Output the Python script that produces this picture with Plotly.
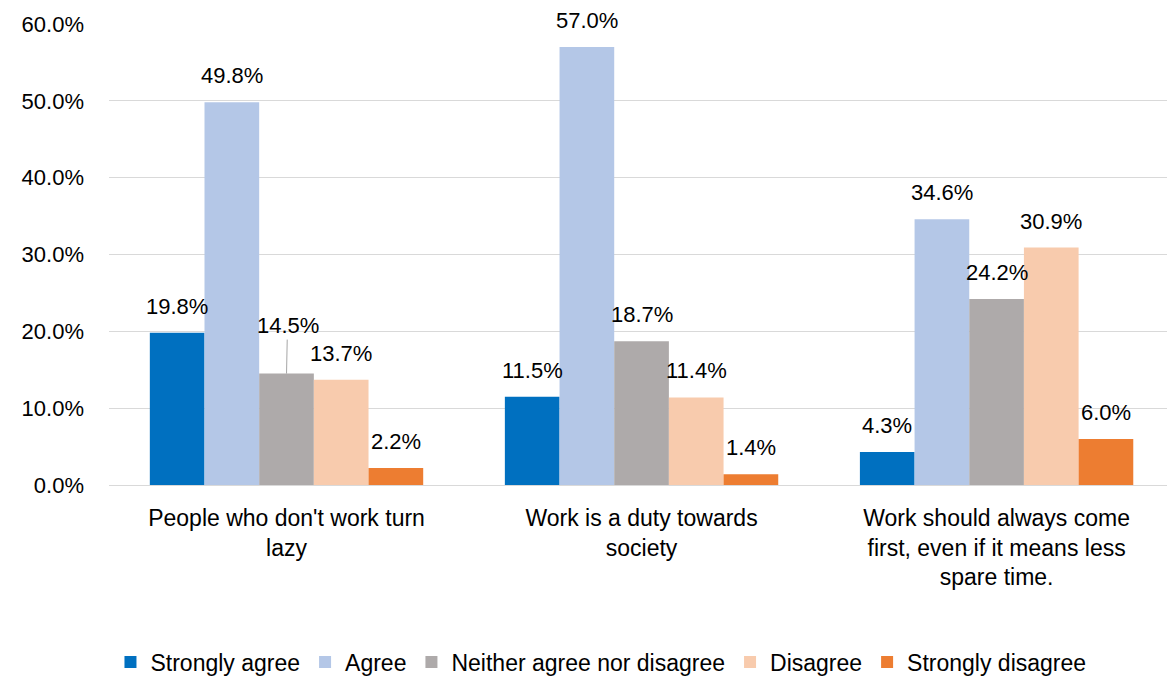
import plotly.graph_objects as go

# Survey responses by statement (percent of respondents)
categories = [
    "People who don't work turn<br>lazy",
    "Work is a duty towards<br>society",
    "Work should always come<br>first, even if it means less<br>spare time.",
]
series_names = ["Strongly agree", "Agree", "Neither agree nor disagree", "Disagree", "Strongly disagree"]
strongly_agree = [19.8, 11.5, 4.3]
agree = [49.8, 57.0, 34.6]
neither = [14.5, 18.7, 24.2]
disagree = [13.7, 11.4, 30.9]
strongly_disagree = [2.2, 1.4, 6.0]
y_ticks = [0, 10, 20, 30, 40, 50, 60]

series_values = [strongly_agree, agree, neither, disagree, strongly_disagree]
colors = ["#0070C0", "#B4C7E7", "#AEAAAA", "#F8CBAD", "#ED7D31"]

FONT = "Arial, 'Liberation Sans', sans-serif"
FS = 22
GROUP_W = 0.77
n = len(series_names)
bar_w = GROUP_W / n
xs = list(range(len(categories)))

fig = go.Figure()
for name, vals, col in zip(series_names, series_values, colors):
    fig.add_trace(go.Bar(
        x=xs, y=[v / 100 for v in vals], name=name,
        marker=dict(color=col, line=dict(width=0)),
        hoverinfo="skip",
    ))

# Value labels above each bar
annotations = []
for i, vals in enumerate(series_values):
    for c, v in zip(xs, vals):
        bx = c - GROUP_W / 2 + bar_w * (i + 0.5)
        if series_names[i] == "Neither agree nor disagree" and c == 0:
            # label pulled up with a leader line
            annotations.append(dict(
                x=bx, y=v / 100, xref="x", yref="y",
                text=f"{v:.1f}%", showarrow=True, arrowhead=0,
                arrowwidth=1, arrowcolor="#A6A6A6", ax=1, ay=-48,
                standoff=0, font=dict(family=FONT, size=FS, color="#000000"),
            ))
        else:
            annotations.append(dict(
                x=bx, y=v / 100, xref="x", yref="y",
                text=f"{v:.1f}%", showarrow=False, yanchor="bottom", yshift=12,
                font=dict(family=FONT, size=FS, color="#000000"),
            ))

fig.update_layout(
    width=1167, height=677,
    margin=dict(l=109, r=0, t=24, b=192, autoexpand=False),
    paper_bgcolor="white", plot_bgcolor="white",
    barmode="group", bargap=1 - GROUP_W, bargroupgap=0,
    font=dict(family=FONT, size=FS, color="#000000"),
    annotations=annotations,
    showlegend=True,
    legend=dict(
        orientation="h", x=0.465, xanchor="center",
        yref="container", y=0.022, yanchor="middle",
        font=dict(family=FONT, size=23, color="#000000"),
        itemwidth=30, traceorder="normal",
    ),
    xaxis=dict(
        tickmode="array", tickvals=xs, ticktext=categories,
        range=[-0.5, 2.48], showgrid=False, zeroline=False,
        showline=True, linecolor="#D9D9D9", linewidth=1, automargin=False,
        ticks="", ticklabelstandoff=12, tickfont=dict(family=FONT, size=23, color="#000000"),
        fixedrange=True,
    ),
    yaxis=dict(
        range=[0, 0.6], tickvals=[t / 100 for t in y_ticks], tickformat=".1%",
        showgrid=True, gridcolor="#D9D9D9", gridwidth=1, automargin=False,
        zeroline=False, showline=False, ticks="",
        ticklabelstandoff=24, tickfont=dict(family=FONT, size=FS, color="#000000"),
        fixedrange=True,
    ),
)

fig.write_html("out.html")
